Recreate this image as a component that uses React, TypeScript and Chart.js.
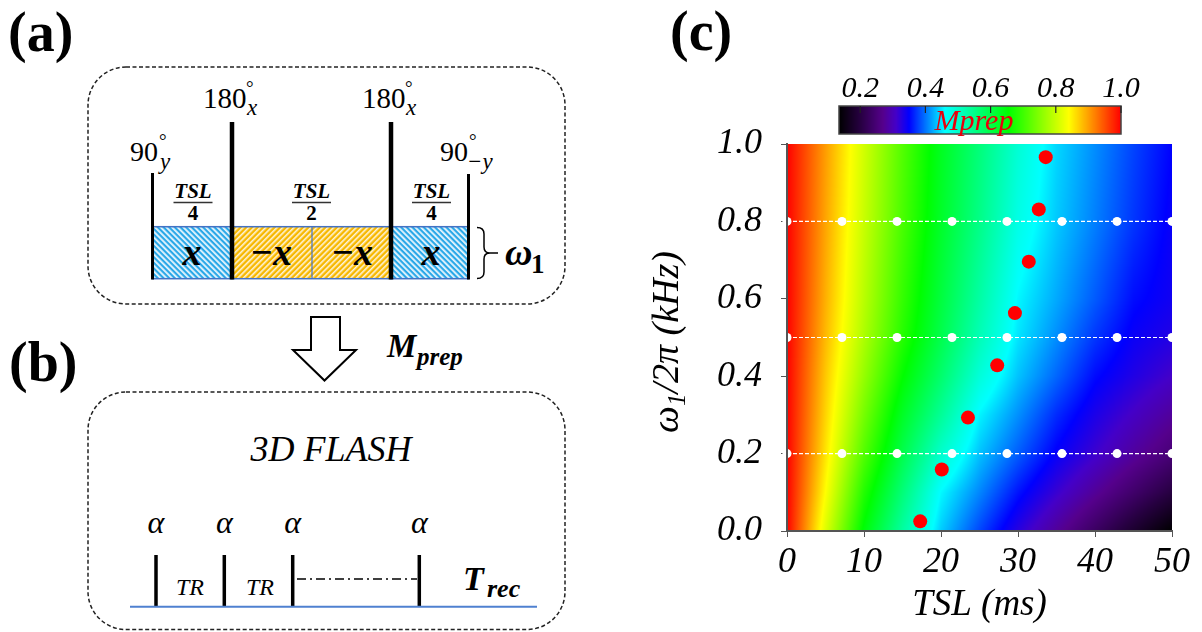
import React, { useEffect, useRef } from "react";
import { Chart, registerables } from "chart.js";

Chart.register(...registerables);

const SERIF = '"Liberation Serif", "Times New Roman", serif';

// ---------------- data ----------------
// Mprep field: rows are omega_1/2pi (kHz), columns are TSL (ms)
const TSL_GRID = [0, 5, 10, 15, 20, 25, 30, 35, 40, 45, 50];
const OMEGA_GRID = [0, 0.1, 0.2, 0.3, 0.4, 0.5, 0.6, 0.8, 1.0];
const MPREP_W000 = [1.0, 0.816, 0.648, 0.532, 0.438, 0.38, 0.327, 0.279, 0.231, 0.183, 0.135];
const MPREP_W010 = [1.0, 0.84, 0.68, 0.564, 0.458, 0.408, 0.358, 0.317, 0.278, 0.239, 0.2];
const MPREP_W020 = [1.0, 0.857, 0.715, 0.598, 0.499, 0.434, 0.39, 0.347, 0.315, 0.282, 0.25];
const MPREP_W030 = [1.0, 0.867, 0.74, 0.627, 0.54, 0.456, 0.412, 0.368, 0.334, 0.307, 0.28];
const MPREP_W040 = [1.0, 0.875, 0.763, 0.657, 0.573, 0.489, 0.434, 0.394, 0.354, 0.331, 0.31];
const MPREP_W050 = [1.0, 0.884, 0.78, 0.682, 0.597, 0.516, 0.449, 0.411, 0.373, 0.344, 0.33];
const MPREP_W060 = [1.0, 0.89, 0.789, 0.693, 0.608, 0.53, 0.457, 0.423, 0.389, 0.355, 0.34];
const MPREP_W080 = [1.0, 0.897, 0.8, 0.708, 0.624, 0.552, 0.479, 0.437, 0.405, 0.373, 0.345];
const MPREP_W100 = [1.0, 0.902, 0.807, 0.715, 0.631, 0.562, 0.493, 0.443, 0.411, 0.379, 0.35];
const MPREP_ROWS = [
  MPREP_W000, MPREP_W010, MPREP_W020, MPREP_W030, MPREP_W040,
  MPREP_W050, MPREP_W060, MPREP_W080, MPREP_W100,
];

// colour map (value -> colour)
const CMAP_STOPS = [0.135, 0.2, 0.27, 0.31, 0.35, 0.46, 0.655, 0.84, 1.0];
const CMAP_COLORS = ["#000000", "#260040", "#55008c", "#4400c8", "#0000ff", "#00ffff", "#00ff00", "#ffff00", "#ff0000"];
const CB_MIN = 0.135;
const CB_MAX = 1.0;
const CB_TICKS = [0.2, 0.4, 0.6, 0.8, 1.0];

// white reference points (dashed rows)
const REF_OMEGAS = [0.2, 0.5, 0.8];
const REF_TSL = [0, 7.14, 14.29, 21.43, 28.57, 35.71, 42.86, 50];
// red points
const OPT_TSL = [17.3, 20.1, 23.5, 27.3, 29.6, 31.4, 32.7, 33.6];
const OPT_OMEGA = [0.025, 0.159, 0.293, 0.428, 0.563, 0.696, 0.831, 0.966];

const X_MIN = 0, X_MAX = 50, X_STEP = 10;
const Y_MIN = 0, Y_MAX = 1, Y_STEP = 0.2;

// ---------------- helpers ----------------
function hexToRgb(h: string): number[] {
  return [parseInt(h.slice(1, 3), 16), parseInt(h.slice(3, 5), 16), parseInt(h.slice(5, 7), 16)];
}
const CMAP_RGB = CMAP_COLORS.map(hexToRgb);

function cmap(v: number): number[] {
  if (v <= CMAP_STOPS[0]) return CMAP_RGB[0];
  for (let i = 1; i < CMAP_STOPS.length; i++) {
    if (v <= CMAP_STOPS[i]) {
      const t = (v - CMAP_STOPS[i - 1]) / (CMAP_STOPS[i] - CMAP_STOPS[i - 1]);
      const a = CMAP_RGB[i - 1], b = CMAP_RGB[i];
      return [a[0] + (b[0] - a[0]) * t, a[1] + (b[1] - a[1]) * t, a[2] + (b[2] - a[2]) * t];
    }
  }
  return CMAP_RGB[CMAP_RGB.length - 1];
}

function locate(arr: number[], v: number): [number, number] {
  if (v <= arr[0]) return [0, 0];
  for (let i = 0; i < arr.length - 1; i++) {
    if (v <= arr[i + 1]) return [i, (v - arr[i]) / (arr[i + 1] - arr[i])];
  }
  return [arr.length - 2, 1];
}

function fieldAt(tsl: number, om: number): number {
  const [c, tc] = locate(TSL_GRID, tsl);
  const [r, tr] = locate(OMEGA_GRID, om);
  const a = MPREP_ROWS[r][c] * (1 - tc) + MPREP_ROWS[r][c + 1] * tc;
  const b = MPREP_ROWS[r + 1][c] * (1 - tc) + MPREP_ROWS[r + 1][c + 1] * tc;
  return a * (1 - tr) + b * tr;
}

const heatmapPlugin = {
  id: "heatmap",
  beforeDraw(chart: any) {
    const { ctx, chartArea, scales } = chart;
    const x0 = Math.round(chartArea.left);
    const y0 = Math.round(chartArea.top);
    const w = Math.round(chartArea.right) - x0;
    const h = Math.round(chartArea.bottom) - y0;
    if (w <= 0 || h <= 0) return;
    const off = document.createElement("canvas");
    off.width = w;
    off.height = h;
    const octx = off.getContext("2d")!;
    const img = octx.createImageData(w, h);
    const cols: number[] = [];
    for (let i = 0; i < w; i++) cols.push(scales.x.getValueForPixel(x0 + i + 0.5));
    for (let j = 0; j < h; j++) {
      const om = scales.y.getValueForPixel(y0 + j + 0.5);
      for (let i = 0; i < w; i++) {
        const c = cmap(fieldAt(cols[i], om));
        const k = (j * w + i) * 4;
        img.data[k] = c[0];
        img.data[k + 1] = c[1];
        img.data[k + 2] = c[2];
        img.data[k + 3] = 255;
      }
    }
    octx.putImageData(img, 0, 0);
    ctx.drawImage(off, x0, y0);
  },
};

const decorPlugin = {
  id: "decor",
  afterDraw(chart: any) {
    const { ctx, chartArea } = chart;
    ctx.save();
    // panel label
    ctx.fillStyle = "#000";
    ctx.textAlign = "left";
    ctx.textBaseline = "alphabetic";
    ctx.font = `bold 56px ${SERIF}`;
    ctx.fillText("(c)", 30, 50);

    // colour bar
    const cbL = 199, cbR = 481, cbT = 106, cbB = 134;
    for (let px = cbL; px < cbR; px++) {
      const v = CB_MIN + ((px + 0.5 - cbL) / (cbR - cbL)) * (CB_MAX - CB_MIN);
      const c = cmap(v);
      ctx.fillStyle = `rgb(${Math.round(c[0])},${Math.round(c[1])},${Math.round(c[2])})`;
      ctx.fillRect(px, cbT, 1, cbB - cbT);
    }
    ctx.strokeStyle = "#444";
    ctx.lineWidth = 1.5;
    ctx.strokeRect(cbL, cbT, cbR - cbL, cbB - cbT);
    ctx.font = `italic 30px ${SERIF}`;
    ctx.textAlign = "center";
    ctx.fillStyle = "#000";
    for (const v of CB_TICKS) {
      const x = cbL + ((v - CB_MIN) / (CB_MAX - CB_MIN)) * (cbR - cbL);
      ctx.strokeStyle = "#222";
      ctx.lineWidth = 1.2;
      ctx.beginPath();
      ctx.moveTo(x, cbT);
      ctx.lineTo(x, cbT + 7);
      ctx.stroke();
      ctx.fillText(v.toFixed(1), x, 97);
    }
    ctx.fillStyle = "#e8000b";
    ctx.fillText("Mprep", 334, 130);

    // x title
    ctx.fillStyle = "#000";
    ctx.font = `italic 37px ${SERIF}`;
    ctx.textAlign = "center";
    ctx.fillText("TSL (ms)", (chartArea.left + chartArea.right) / 2, 615);

    // y title (rotated) : ω1/2π (kHz)
    ctx.translate(38, 342);
    ctx.rotate(-Math.PI / 2);
    ctx.textAlign = "left";
    const big = `italic 38px ${SERIF}`;
    const small = `italic 25px ${SERIF}`;
    ctx.font = big;
    const w1 = ctx.measureText("ω").width;
    const w3 = ctx.measureText("/2π (kHz)").width;
    ctx.font = small;
    const w2 = ctx.measureText("1").width;
    const total = w1 + w2 + w3;
    let x = -total / 2;
    ctx.font = big;
    ctx.fillText("ω", x, 0);
    x += w1;
    ctx.font = small;
    ctx.fillText("1", x, 7);
    x += w2;
    ctx.font = big;
    ctx.fillText("/2π (kHz)", x, 0);
    ctx.restore();
  },
};

function HeatChart() {
  const ref = useRef<HTMLCanvasElement | null>(null);
  useEffect(() => {
    const canvas = ref.current!;
    const refSets = REF_OMEGAS.map((om) => ({
      type: "line" as const,
      data: REF_TSL.map((t) => ({ x: t, y: om })),
      showLine: true,
      borderColor: "#ffffff",
      borderWidth: 1.2,
      borderDash: [4, 2],
      pointRadius: 4.5,
      pointBackgroundColor: "#ffffff",
      pointBorderWidth: 0,
      clip: false as any,
    }));
    const optSet = {
      type: "scatter" as const,
      data: OPT_TSL.map((t, i) => ({ x: t, y: OPT_OMEGA[i] })),
      pointRadius: 7,
      pointBackgroundColor: "#ff0000",
      pointBorderWidth: 0,
      showLine: false,
      clip: false as any,
    };
    const tickFont = { family: SERIF, size: 36, style: "italic" as const };
    const chart = new Chart(canvas, {
      type: "scatter",
      data: { datasets: [...refSets, optSet] as any },
      options: {
        responsive: false,
        animation: false,
        devicePixelRatio: 1,
        layout: { padding: { top: 144, right: 30, left: 0, bottom: 0 } },
        plugins: { legend: { display: false }, tooltip: { enabled: false } },
        scales: {
          x: {
            type: "linear",
            min: X_MIN,
            max: X_MAX,
            ticks: { stepSize: X_STEP, font: tickFont, color: "#000", padding: 4, maxRotation: 0, autoSkip: false },
            grid: { drawOnChartArea: false, tickLength: 6, color: "#555" },
            border: { color: "#555", width: 2, z: 1 },
            afterFit: (s: any) => { s.height = 101; },
          },
          y: {
            type: "linear",
            min: Y_MIN,
            max: Y_MAX,
            ticks: {
              stepSize: Y_STEP,
              font: tickFont,
              color: "#000",
              padding: 19,
              callback: (v: any) => Number(v).toFixed(1),
            },
            grid: { drawOnChartArea: false, tickLength: 6, color: "#555" },
            border: { color: "#555", width: 2, z: 1 },
            afterFit: (s: any) => { s.width = 147; },
          },
        },
      } as any,
      plugins: [heatmapPlugin, decorPlugin],
    });
    return () => chart.destroy();
  }, []);
  return (
    <canvas
      ref={ref}
      width={562}
      height={632}
      style={{ position: "absolute", left: 640, top: 0, width: 562, height: 632 }}
    />
  );
}

function Diagrams() {
  const f = SERIF;
  const pulseB = [156, 224.3, 292.7, 419.3];
  return (
    <svg width={640} height={632} style={{ position: "absolute", left: 0, top: 0 }} fontFamily={f}>
      <defs>
        <pattern id="hatchBlue" width="4" height="4" patternUnits="userSpaceOnUse" patternTransform="rotate(-45)">
          <rect width="4" height="4" fill="#2aa8e8" />
          <rect width="1.8" height="4" fill="#ffffff" opacity="0.9" />
        </pattern>
        <pattern id="hatchYellow" width="4" height="4" patternUnits="userSpaceOnUse" patternTransform="rotate(45)">
          <rect width="4" height="4" fill="#f7b800" />
          <rect width="1.6" height="4" fill="#ffffff" opacity="0.85" />
        </pattern>
      </defs>

      {/* (a) */}
      <text x={8} y={51} fontSize={56} fontWeight="bold">(a)</text>
      <rect x={88} y={67} width={477} height={237} rx={38} fill="none" stroke="#222" strokeWidth={1.5} strokeDasharray="4 2.5" />

      <rect x={152.5} y={226.7} width={79.5} height={52} fill="url(#hatchBlue)" stroke="#4472c4" strokeWidth={1.5} />
      <rect x={232} y={226.7} width={159} height={52} fill="url(#hatchYellow)" stroke="#4472c4" strokeWidth={1.5} />
      <rect x={391} y={226.7} width={77.5} height={52} fill="url(#hatchBlue)" stroke="#4472c4" strokeWidth={1.5} />
      <line x1={312} y1={226.7} x2={312} y2={278.7} stroke="#4472c4" strokeWidth={1.2} />

      <line x1={152.5} y1={173} x2={152.5} y2={279.5} stroke="#000" strokeWidth={3} />
      <line x1={232} y1={122} x2={232} y2={279.5} stroke="#000" strokeWidth={4.5} />
      <line x1={391} y1={122} x2={391} y2={279.5} stroke="#000" strokeWidth={4.5} />
      <line x1={468.5} y1={174} x2={468.5} y2={279.5} stroke="#000" strokeWidth={3} />

      {/* pulse labels */}
      <text x={130} y={161} fontSize={28}>90</text>
      <text x={159} y={147} fontSize={19}>°</text>
      <text x={160} y={169} fontSize={23} fontStyle="italic">y</text>

      <text x={203} y={108} fontSize={29}>180</text>
      <text x={246} y={94} fontSize={19}>°</text>
      <text x={247} y={115} fontSize={23} fontStyle="italic">x</text>

      <text x={362} y={108} fontSize={29}>180</text>
      <text x={405} y={94} fontSize={19}>°</text>
      <text x={406} y={115} fontSize={23} fontStyle="italic">x</text>

      <text x={440} y={161} fontSize={28}>90</text>
      <text x={469} y={147} fontSize={19}>°</text>
      <text x={467} y={169} fontSize={23} fontStyle="italic">−y</text>

      {/* fractions */}
      {[
        { cx: 193, d: "4" },
        { cx: 311.5, d: "2" },
        { cx: 431.5, d: "4" },
      ].map((fr, i) => (
        <g key={i}>
          <text x={fr.cx} y={198} fontSize={21} fontWeight="bold" fontStyle="italic" textAnchor="middle">TSL</text>
          <line x1={fr.cx - 19.5} y1={202.5} x2={fr.cx + 19.5} y2={202.5} stroke="#333" strokeWidth={1.3} />
          <text x={fr.cx} y={220} fontSize={21} fontWeight="bold" textAnchor="middle">{fr.d}</text>
        </g>
      ))}

      {/* box labels */}
      <text x={192} y={265} fontSize={38} fontWeight="bold" fontStyle="italic" textAnchor="middle">x</text>
      <text x={271} y={265} fontSize={38} fontWeight="bold" fontStyle="italic" textAnchor="middle">−x</text>
      <text x={352} y={265} fontSize={38} fontWeight="bold" fontStyle="italic" textAnchor="middle">−x</text>
      <text x={431} y={265} fontSize={38} fontWeight="bold" fontStyle="italic" textAnchor="middle">x</text>

      {/* brace + omega */}
      <path
        d="M477,227.5 Q484,227.5 484,234 L484,247 Q484,253 490,253 L498,253 M490,253 Q484,253 484,259 L484,272 Q484,278.5 477,278.5"
        fill="none"
        stroke="#000"
        strokeWidth={1.5}
      />
      <text x={505} y={265} fontSize={38} fontWeight="bold" fontStyle="italic">ω</text>
      <text x={531} y={273} fontSize={27} fontWeight="bold">1</text>

      {/* arrow + Mprep */}
      <polygon points="311,317 340,317 340,350 356,350 324.5,380.5 293,350 311,350" fill="#fff" stroke="#000" strokeWidth={2} />
      <text x={387} y={357} fontSize={33} fontWeight="bold" fontStyle="italic">M</text>
      <text x={417} y={365} fontSize={25} fontWeight="bold" fontStyle="italic">prep</text>

      {/* (b) */}
      <text x={9} y={381} fontSize={56} fontWeight="bold">(b)</text>
      <rect x={88} y={392} width={477} height={237.5} rx={38} fill="none" stroke="#222" strokeWidth={1.5} strokeDasharray="4 2.5" />
      <text x={331} y={461} fontSize={36} fontStyle="italic" textAnchor="middle">3D FLASH</text>

      {pulseB.map((x, i) => (
        <g key={i}>
          <text x={x} y={533} fontSize={32} fontStyle="italic" textAnchor="middle">α</text>
          <line x1={x} y1={555} x2={x} y2={606} stroke="#000" strokeWidth={3.5} />
        </g>
      ))}
      <line x1={130} y1={606.7} x2={537} y2={606.7} stroke="#4f81d0" strokeWidth={2} />
      <text x={190} y={595} fontSize={24} fontStyle="italic" textAnchor="middle">TR</text>
      <text x={260} y={595} fontSize={24} fontStyle="italic" textAnchor="middle">TR</text>
      <line x1={297} y1={579} x2={417} y2={579} stroke="#000" strokeWidth={1.5} strokeDasharray="9 4 2 4" />
      <text x={463} y={590} fontSize={34} fontWeight="bold" fontStyle="italic">T</text>
      <text x={487} y={597} fontSize={26} fontWeight="bold" fontStyle="italic">rec</text>
    </svg>
  );
}

export default function App() {
  return (
    <div style={{ position: "fixed", left: 0, top: 0, width: 1202, height: 632, background: "#fff", overflow: "hidden" }}>
      <Diagrams />
      <HeatChart />
    </div>
  );
}
